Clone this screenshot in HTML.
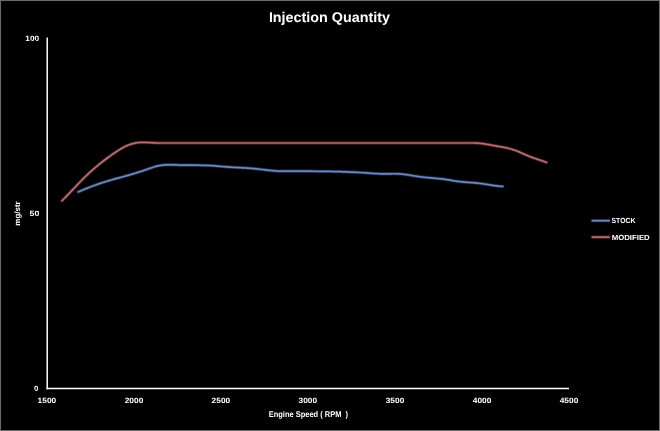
<!DOCTYPE html>
<html><head><meta charset="utf-8"><style>
html,body{margin:0;padding:0;background:#000;overflow:hidden;}
svg{display:block;will-change:transform;}
text{font-family:"Liberation Sans", Arial, sans-serif;fill:#fff;font-weight:bold;text-rendering:geometricPrecision;}
</style></head><body>
<svg width="660" height="431" viewBox="0 0 660 431">
<rect x="0" y="0" width="660" height="431" fill="#000"/>
<rect x="0.5" y="0.5" width="659" height="430" fill="none" stroke="#6b6b6b" stroke-width="1"/>
<defs><filter id="soft" x="0" y="0" width="660" height="431" filterUnits="userSpaceOnUse"><feConvolveMatrix order="3" kernelMatrix="0.01134 0.08382 0.01134 0.08382 0.61935 0.08382 0.01134 0.08382 0.01134" divisor="1" edgeMode="none"/></filter></defs>
<text x="268.9" y="21.9" font-size="14" textLength="121" lengthAdjust="spacingAndGlyphs">Injection Quantity</text>
<line x1="47.2" y1="37.6" x2="47.2" y2="389.2" stroke="#fff" stroke-width="1.5"/>
<line x1="46.45" y1="388.5" x2="569" y2="388.5" stroke="#fff" stroke-width="1.4"/>
<g font-size="7.7" text-anchor="end">
<text x="39.1" y="40.6" textLength="13.8" lengthAdjust="spacingAndGlyphs">100</text>
<text x="39.4" y="215.7" textLength="9.8" lengthAdjust="spacingAndGlyphs">50</text>
<text x="38.2" y="391.1">0</text>
</g>
<g font-size="7.6" text-anchor="middle">
<text x="46.9" y="403.2" textLength="18.6" lengthAdjust="spacingAndGlyphs">1500</text>
<text x="134" y="403.2" textLength="18.6" lengthAdjust="spacingAndGlyphs">2000</text>
<text x="220.9" y="403.2" textLength="18.6" lengthAdjust="spacingAndGlyphs">2500</text>
<text x="307.8" y="403.2" textLength="18.6" lengthAdjust="spacingAndGlyphs">3000</text>
<text x="395" y="403.2" textLength="18.6" lengthAdjust="spacingAndGlyphs">3500</text>
<text x="482.1" y="403.2" textLength="18.6" lengthAdjust="spacingAndGlyphs">4000</text>
<text x="569" y="403.2" textLength="18.6" lengthAdjust="spacingAndGlyphs">4500</text>
</g>
<text x="268.7" y="417" font-size="8.4" textLength="79.4" lengthAdjust="spacingAndGlyphs" style="white-space:pre">Engine Speed ( RPM  )</text>
<text transform="translate(19.7,225.7) rotate(-90)" font-size="7.8" textLength="24.4" lengthAdjust="spacingAndGlyphs">mg/str</text>
<g filter="url(#soft)">
<path d="M61.90,200.88 L62.00,200.78 L63.00,199.77 L64.00,198.75 L65.00,197.73 L66.00,196.70 L67.00,195.66 L68.00,194.61 L69.00,193.56 L70.00,192.51 L71.00,191.46 L72.00,190.40 L73.00,189.34 L74.00,188.28 L75.00,187.23 L76.00,186.18 L77.00,185.13 L78.00,184.08 L79.00,183.04 L80.00,182.01 L81.00,180.98 L82.00,179.97 L83.00,178.96 L84.00,177.96 L85.00,176.98 L86.00,176.01 L87.00,175.05 L88.00,174.10 L89.00,173.17 L90.00,172.24 L91.00,171.33 L92.00,170.43 L93.00,169.55 L94.00,168.67 L95.00,167.80 L96.00,166.95 L97.00,166.11 L98.00,165.28 L99.00,164.45 L100.00,163.64 L101.00,162.84 L102.00,162.05 L103.00,161.27 L104.00,160.50 L105.00,159.74 L106.00,158.99 L107.00,158.25 L108.00,157.51 L109.00,156.79 L110.00,156.07 L111.00,155.37 L112.00,154.67 L113.00,153.98 L114.00,153.30 L115.00,152.62 L116.00,151.96 L117.00,151.30 L118.00,150.65 L119.00,150.02 L120.00,149.40 L121.00,148.79 L122.00,148.20 L123.00,147.64 L124.00,147.10 L125.00,146.58 L126.00,146.09 L127.00,145.63 L128.00,145.20 L129.00,144.81 L130.00,144.44 L131.00,144.11 L132.00,143.82 L133.00,143.55 L134.00,143.31 L135.00,143.11 L136.00,142.93 L137.00,142.78 L138.00,142.65 L139.00,142.55 L140.00,142.48 L141.00,142.43 L142.00,142.40 L143.00,142.39 L144.00,142.40 L145.00,142.42 L146.00,142.45 L147.00,142.49 L148.00,142.54 L149.00,142.59 L150.00,142.65 L151.00,142.71 L152.00,142.76 L153.00,142.81 L154.00,142.86 L155.00,142.90 L156.00,142.94 L157.00,142.98 L158.00,143.01 L159.00,143.04 L160.00,143.00 L161.00,143.00 L162.00,143.00 L163.00,143.00 L164.00,143.00 L165.00,143.00 L166.00,143.00 L167.00,143.00 L168.00,143.00 L169.00,143.00 L170.00,143.00 L460.00,143.00 L461.00,143.00 L462.00,143.00 L463.00,143.00 L464.00,143.00 L465.00,143.00 L466.00,143.00 L467.00,143.00 L468.00,143.00 L469.00,143.00 L470.00,143.00 L471.00,143.00 L472.00,143.00 L473.00,143.00 L474.00,143.00 L475.00,142.92 L476.00,142.99 L477.00,143.06 L478.00,143.15 L479.00,143.24 L480.00,143.34 L481.00,143.45 L482.00,143.58 L483.00,143.71 L484.00,143.85 L485.00,144.00 L486.00,144.16 L487.00,144.32 L488.00,144.49 L489.00,144.67 L490.00,144.85 L491.00,145.03 L492.00,145.22 L493.00,145.40 L494.00,145.59 L495.00,145.77 L496.00,145.95 L497.00,146.13 L498.00,146.30 L499.00,146.47 L500.00,146.64 L501.00,146.82 L502.00,146.99 L503.00,147.17 L504.00,147.36 L505.00,147.56 L506.00,147.76 L507.00,147.98 L508.00,148.22 L509.00,148.46 L510.00,148.73 L511.00,149.01 L512.00,149.31 L513.00,149.63 L514.00,149.96 L515.00,150.32 L516.00,150.69 L517.00,151.07 L518.00,151.48 L519.00,151.89 L520.00,152.32 L521.00,152.76 L522.00,153.20 L523.00,153.64 L524.00,154.09 L525.00,154.53 L526.00,154.97 L527.00,155.39 L528.00,155.81 L529.00,156.22 L530.00,156.61 L531.00,156.99 L532.00,157.37 L533.00,157.73 L534.00,158.09 L535.00,158.44 L536.00,158.79 L537.00,159.13 L538.00,159.47 L539.00,159.80 L540.00,160.14 L541.00,160.48 L542.00,160.82 L543.00,161.16 L544.00,161.50 L545.00,161.85 L546.00,162.21 L546.70,162.46" fill="none" stroke="#3c0808" stroke-width="2.8" stroke-linecap="round" stroke-linejoin="round"/>
<path d="M61.90,200.88 L62.00,200.78 L63.00,199.77 L64.00,198.75 L65.00,197.73 L66.00,196.70 L67.00,195.66 L68.00,194.61 L69.00,193.56 L70.00,192.51 L71.00,191.46 L72.00,190.40 L73.00,189.34 L74.00,188.28 L75.00,187.23 L76.00,186.18 L77.00,185.13 L78.00,184.08 L79.00,183.04 L80.00,182.01 L81.00,180.98 L82.00,179.97 L83.00,178.96 L84.00,177.96 L85.00,176.98 L86.00,176.01 L87.00,175.05 L88.00,174.10 L89.00,173.17 L90.00,172.24 L91.00,171.33 L92.00,170.43 L93.00,169.55 L94.00,168.67 L95.00,167.80 L96.00,166.95 L97.00,166.11 L98.00,165.28 L99.00,164.45 L100.00,163.64 L101.00,162.84 L102.00,162.05 L103.00,161.27 L104.00,160.50 L105.00,159.74 L106.00,158.99 L107.00,158.25 L108.00,157.51 L109.00,156.79 L110.00,156.07 L111.00,155.37 L112.00,154.67 L113.00,153.98 L114.00,153.30 L115.00,152.62 L116.00,151.96 L117.00,151.30 L118.00,150.65 L119.00,150.02 L120.00,149.40 L121.00,148.79 L122.00,148.20 L123.00,147.64 L124.00,147.10 L125.00,146.58 L126.00,146.09 L127.00,145.63 L128.00,145.20 L129.00,144.81 L130.00,144.44 L131.00,144.11 L132.00,143.82 L133.00,143.55 L134.00,143.31 L135.00,143.11 L136.00,142.93 L137.00,142.78 L138.00,142.65 L139.00,142.55 L140.00,142.48 L141.00,142.43 L142.00,142.40 L143.00,142.39 L144.00,142.40 L145.00,142.42 L146.00,142.45 L147.00,142.49 L148.00,142.54 L149.00,142.59 L150.00,142.65 L151.00,142.71 L152.00,142.76 L153.00,142.81 L154.00,142.86 L155.00,142.90 L156.00,142.94 L157.00,142.98 L158.00,143.01 L159.00,143.04 L160.00,143.00 L161.00,143.00 L162.00,143.00 L163.00,143.00 L164.00,143.00 L165.00,143.00 L166.00,143.00 L167.00,143.00 L168.00,143.00 L169.00,143.00 L170.00,143.00 L460.00,143.00 L461.00,143.00 L462.00,143.00 L463.00,143.00 L464.00,143.00 L465.00,143.00 L466.00,143.00 L467.00,143.00 L468.00,143.00 L469.00,143.00 L470.00,143.00 L471.00,143.00 L472.00,143.00 L473.00,143.00 L474.00,143.00 L475.00,142.92 L476.00,142.99 L477.00,143.06 L478.00,143.15 L479.00,143.24 L480.00,143.34 L481.00,143.45 L482.00,143.58 L483.00,143.71 L484.00,143.85 L485.00,144.00 L486.00,144.16 L487.00,144.32 L488.00,144.49 L489.00,144.67 L490.00,144.85 L491.00,145.03 L492.00,145.22 L493.00,145.40 L494.00,145.59 L495.00,145.77 L496.00,145.95 L497.00,146.13 L498.00,146.30 L499.00,146.47 L500.00,146.64 L501.00,146.82 L502.00,146.99 L503.00,147.17 L504.00,147.36 L505.00,147.56 L506.00,147.76 L507.00,147.98 L508.00,148.22 L509.00,148.46 L510.00,148.73 L511.00,149.01 L512.00,149.31 L513.00,149.63 L514.00,149.96 L515.00,150.32 L516.00,150.69 L517.00,151.07 L518.00,151.48 L519.00,151.89 L520.00,152.32 L521.00,152.76 L522.00,153.20 L523.00,153.64 L524.00,154.09 L525.00,154.53 L526.00,154.97 L527.00,155.39 L528.00,155.81 L529.00,156.22 L530.00,156.61 L531.00,156.99 L532.00,157.37 L533.00,157.73 L534.00,158.09 L535.00,158.44 L536.00,158.79 L537.00,159.13 L538.00,159.47 L539.00,159.80 L540.00,160.14 L541.00,160.48 L542.00,160.82 L543.00,161.16 L544.00,161.50 L545.00,161.85 L546.00,162.21 L546.70,162.46" fill="none" stroke="#c87b7e" stroke-width="1.7" stroke-linecap="round" stroke-linejoin="round"/>
<path d="M78.10,191.99 L79.00,191.59 L80.00,191.16 L81.00,190.73 L82.00,190.30 L83.00,189.88 L84.00,189.46 L85.00,189.05 L86.00,188.64 L87.00,188.24 L88.00,187.84 L89.00,187.45 L90.00,187.06 L91.00,186.68 L92.00,186.30 L93.00,185.93 L94.00,185.56 L95.00,185.19 L96.00,184.84 L97.00,184.48 L98.00,184.13 L99.00,183.79 L100.00,183.45 L101.00,183.12 L102.00,182.79 L103.00,182.47 L104.00,182.15 L105.00,181.83 L106.00,181.52 L107.00,181.22 L108.00,180.91 L109.00,180.62 L110.00,180.32 L111.00,180.03 L112.00,179.75 L113.00,179.47 L114.00,179.19 L115.00,178.91 L116.00,178.64 L117.00,178.37 L118.00,178.10 L119.00,177.83 L120.00,177.56 L121.00,177.30 L122.00,177.03 L123.00,176.76 L124.00,176.48 L125.00,176.20 L126.00,175.92 L127.00,175.64 L128.00,175.35 L129.00,175.06 L130.00,174.77 L131.00,174.47 L132.00,174.17 L133.00,173.87 L134.00,173.57 L135.00,173.27 L136.00,172.96 L137.00,172.65 L138.00,172.34 L139.00,172.03 L140.00,171.71 L141.00,171.39 L142.00,171.07 L143.00,170.74 L144.00,170.40 L145.00,170.06 L146.00,169.71 L147.00,169.36 L148.00,169.01 L149.00,168.65 L150.00,168.30 L151.00,167.95 L152.00,167.61 L153.00,167.28 L154.00,166.97 L155.00,166.67 L156.00,166.39 L157.00,166.13 L158.00,165.90 L159.00,165.68 L160.00,165.50 L161.00,165.33 L162.00,165.18 L163.00,165.06 L164.00,164.97 L165.00,164.89 L166.00,164.83 L167.00,164.80 L168.00,164.78 L169.00,164.77 L170.00,164.78 L171.00,164.79 L172.00,164.82 L173.00,164.84 L174.00,164.88 L175.00,164.91 L176.00,164.94 L177.00,164.97 L178.00,165.00 L179.00,165.03 L180.00,165.05 L181.00,165.07 L182.00,165.09 L183.00,165.10 L184.00,165.12 L185.00,165.13 L186.00,165.14 L187.00,165.15 L188.00,165.16 L189.00,165.17 L190.00,165.17 L191.00,165.18 L192.00,165.18 L193.00,165.19 L194.00,165.19 L195.00,165.20 L196.00,165.20 L197.00,165.21 L198.00,165.22 L199.00,165.23 L200.00,165.24 L201.00,165.25 L202.00,165.27 L203.00,165.28 L204.00,165.31 L205.00,165.33 L206.00,165.36 L207.00,165.40 L208.00,165.44 L209.00,165.48 L210.00,165.53 L211.00,165.59 L212.00,165.65 L213.00,165.72 L214.00,165.79 L215.00,165.87 L216.00,165.96 L217.00,166.05 L218.00,166.14 L219.00,166.23 L220.00,166.32 L221.00,166.41 L222.00,166.50 L223.00,166.59 L224.00,166.67 L225.00,166.75 L226.00,166.83 L227.00,166.90 L228.00,166.97 L229.00,167.04 L230.00,167.10 L231.00,167.17 L232.00,167.23 L233.00,167.28 L234.00,167.34 L235.00,167.40 L236.00,167.45 L237.00,167.51 L238.00,167.56 L239.00,167.61 L240.00,167.67 L241.00,167.72 L242.00,167.78 L243.00,167.84 L244.00,167.89 L245.00,167.96 L246.00,168.02 L247.00,168.08 L248.00,168.15 L249.00,168.22 L250.00,168.29 L251.00,168.37 L252.00,168.45 L253.00,168.54 L254.00,168.63 L255.00,168.72 L256.00,168.82 L257.00,168.93 L258.00,169.03 L259.00,169.15 L260.00,169.26 L261.00,169.38 L262.00,169.49 L263.00,169.61 L264.00,169.73 L265.00,169.85 L266.00,169.96 L267.00,170.08 L268.00,170.19 L269.00,170.30 L270.00,170.41 L271.00,170.51 L272.00,170.61 L273.00,170.70 L274.00,170.78 L275.00,170.86 L276.00,170.93 L277.00,170.99 L278.00,171.05 L279.00,171.09 L280.00,171.13 L281.00,171.16 L282.00,171.18 L283.00,171.19 L284.00,171.20 L285.00,171.21 L286.00,171.21 L287.00,171.21 L288.00,171.21 L289.00,171.21 L290.00,171.20 L291.00,171.20 L292.00,171.20 L293.00,171.19 L294.00,171.19 L295.00,171.19 L296.00,171.19 L297.00,171.19 L298.00,171.18 L299.00,171.18 L300.00,171.18 L301.00,171.18 L302.00,171.19 L303.00,171.19 L304.00,171.19 L305.00,171.19 L306.00,171.20 L307.00,171.20 L308.00,171.20 L309.00,171.21 L310.00,171.21 L311.00,171.22 L312.00,171.23 L313.00,171.23 L314.00,171.24 L315.00,171.25 L316.00,171.26 L317.00,171.27 L318.00,171.28 L319.00,171.29 L320.00,171.30 L321.00,171.31 L322.00,171.32 L323.00,171.34 L324.00,171.35 L325.00,171.37 L326.00,171.38 L327.00,171.40 L328.00,171.42 L329.00,171.44 L330.00,171.45 L331.00,171.47 L332.00,171.49 L333.00,171.51 L334.00,171.54 L335.00,171.56 L336.00,171.58 L337.00,171.61 L338.00,171.63 L339.00,171.66 L340.00,171.69 L341.00,171.72 L342.00,171.75 L343.00,171.78 L344.00,171.81 L345.00,171.84 L346.00,171.88 L347.00,171.91 L348.00,171.95 L349.00,171.99 L350.00,172.03 L351.00,172.07 L352.00,172.11 L353.00,172.15 L354.00,172.20 L355.00,172.25 L356.00,172.29 L357.00,172.34 L358.00,172.40 L359.00,172.45 L360.00,172.50 L361.00,172.56 L362.00,172.62 L363.00,172.68 L364.00,172.74 L365.00,172.81 L366.00,172.87 L367.00,172.94 L368.00,173.01 L369.00,173.09 L370.00,173.16 L371.00,173.24 L372.00,173.31 L373.00,173.39 L374.00,173.46 L375.00,173.53 L376.00,173.60 L377.00,173.66 L378.00,173.72 L379.00,173.77 L380.00,173.82 L381.00,173.86 L382.00,173.88 L383.00,173.90 L384.00,173.91 L385.00,173.91 L386.00,173.90 L387.00,173.88 L388.00,173.86 L389.00,173.84 L390.00,173.81 L391.00,173.79 L392.00,173.77 L393.00,173.75 L394.00,173.74 L395.00,173.74 L396.00,173.75 L397.00,173.77 L398.00,173.81 L399.00,173.86 L400.00,173.93 L401.00,174.01 L402.00,174.10 L403.00,174.21 L404.00,174.32 L405.00,174.45 L406.00,174.59 L407.00,174.73 L408.00,174.88 L409.00,175.03 L410.00,175.19 L411.00,175.35 L412.00,175.52 L413.00,175.68 L414.00,175.85 L415.00,176.01 L416.00,176.17 L417.00,176.33 L418.00,176.48 L419.00,176.63 L420.00,176.77 L421.00,176.90 L422.00,177.02 L423.00,177.14 L424.00,177.25 L425.00,177.36 L426.00,177.46 L427.00,177.56 L428.00,177.65 L429.00,177.74 L430.00,177.83 L431.00,177.92 L432.00,178.00 L433.00,178.09 L434.00,178.17 L435.00,178.26 L436.00,178.35 L437.00,178.44 L438.00,178.54 L439.00,178.64 L440.00,178.74 L441.00,178.85 L442.00,178.96 L443.00,179.08 L444.00,179.21 L445.00,179.34 L446.00,179.48 L447.00,179.63 L448.00,179.79 L449.00,179.96 L450.00,180.14 L451.00,180.31 L452.00,180.49 L453.00,180.67 L454.00,180.83 L455.00,181.00 L456.00,181.15 L457.00,181.29 L458.00,181.43 L459.00,181.55 L460.00,181.67 L461.00,181.78 L462.00,181.88 L463.00,181.97 L464.00,182.05 L465.00,182.14 L466.00,182.21 L467.00,182.29 L468.00,182.36 L469.00,182.43 L470.00,182.50 L471.00,182.57 L472.00,182.64 L473.00,182.71 L474.00,182.79 L475.00,182.87 L476.00,182.96 L477.00,183.06 L478.00,183.16 L479.00,183.28 L480.00,183.40 L481.00,183.53 L482.00,183.67 L483.00,183.81 L484.00,183.97 L485.00,184.12 L486.00,184.28 L487.00,184.44 L488.00,184.61 L489.00,184.77 L490.00,184.93 L491.00,185.09 L492.00,185.25 L493.00,185.40 L494.00,185.55 L495.00,185.69 L496.00,185.83 L497.00,185.95 L498.00,186.07 L499.00,186.17 L500.00,186.27 L501.00,186.35 L502.00,186.41 L503.00,186.46" fill="none" stroke="#0a1e40" stroke-width="2.8" stroke-linecap="round" stroke-linejoin="round"/>
<path d="M78.10,191.99 L79.00,191.59 L80.00,191.16 L81.00,190.73 L82.00,190.30 L83.00,189.88 L84.00,189.46 L85.00,189.05 L86.00,188.64 L87.00,188.24 L88.00,187.84 L89.00,187.45 L90.00,187.06 L91.00,186.68 L92.00,186.30 L93.00,185.93 L94.00,185.56 L95.00,185.19 L96.00,184.84 L97.00,184.48 L98.00,184.13 L99.00,183.79 L100.00,183.45 L101.00,183.12 L102.00,182.79 L103.00,182.47 L104.00,182.15 L105.00,181.83 L106.00,181.52 L107.00,181.22 L108.00,180.91 L109.00,180.62 L110.00,180.32 L111.00,180.03 L112.00,179.75 L113.00,179.47 L114.00,179.19 L115.00,178.91 L116.00,178.64 L117.00,178.37 L118.00,178.10 L119.00,177.83 L120.00,177.56 L121.00,177.30 L122.00,177.03 L123.00,176.76 L124.00,176.48 L125.00,176.20 L126.00,175.92 L127.00,175.64 L128.00,175.35 L129.00,175.06 L130.00,174.77 L131.00,174.47 L132.00,174.17 L133.00,173.87 L134.00,173.57 L135.00,173.27 L136.00,172.96 L137.00,172.65 L138.00,172.34 L139.00,172.03 L140.00,171.71 L141.00,171.39 L142.00,171.07 L143.00,170.74 L144.00,170.40 L145.00,170.06 L146.00,169.71 L147.00,169.36 L148.00,169.01 L149.00,168.65 L150.00,168.30 L151.00,167.95 L152.00,167.61 L153.00,167.28 L154.00,166.97 L155.00,166.67 L156.00,166.39 L157.00,166.13 L158.00,165.90 L159.00,165.68 L160.00,165.50 L161.00,165.33 L162.00,165.18 L163.00,165.06 L164.00,164.97 L165.00,164.89 L166.00,164.83 L167.00,164.80 L168.00,164.78 L169.00,164.77 L170.00,164.78 L171.00,164.79 L172.00,164.82 L173.00,164.84 L174.00,164.88 L175.00,164.91 L176.00,164.94 L177.00,164.97 L178.00,165.00 L179.00,165.03 L180.00,165.05 L181.00,165.07 L182.00,165.09 L183.00,165.10 L184.00,165.12 L185.00,165.13 L186.00,165.14 L187.00,165.15 L188.00,165.16 L189.00,165.17 L190.00,165.17 L191.00,165.18 L192.00,165.18 L193.00,165.19 L194.00,165.19 L195.00,165.20 L196.00,165.20 L197.00,165.21 L198.00,165.22 L199.00,165.23 L200.00,165.24 L201.00,165.25 L202.00,165.27 L203.00,165.28 L204.00,165.31 L205.00,165.33 L206.00,165.36 L207.00,165.40 L208.00,165.44 L209.00,165.48 L210.00,165.53 L211.00,165.59 L212.00,165.65 L213.00,165.72 L214.00,165.79 L215.00,165.87 L216.00,165.96 L217.00,166.05 L218.00,166.14 L219.00,166.23 L220.00,166.32 L221.00,166.41 L222.00,166.50 L223.00,166.59 L224.00,166.67 L225.00,166.75 L226.00,166.83 L227.00,166.90 L228.00,166.97 L229.00,167.04 L230.00,167.10 L231.00,167.17 L232.00,167.23 L233.00,167.28 L234.00,167.34 L235.00,167.40 L236.00,167.45 L237.00,167.51 L238.00,167.56 L239.00,167.61 L240.00,167.67 L241.00,167.72 L242.00,167.78 L243.00,167.84 L244.00,167.89 L245.00,167.96 L246.00,168.02 L247.00,168.08 L248.00,168.15 L249.00,168.22 L250.00,168.29 L251.00,168.37 L252.00,168.45 L253.00,168.54 L254.00,168.63 L255.00,168.72 L256.00,168.82 L257.00,168.93 L258.00,169.03 L259.00,169.15 L260.00,169.26 L261.00,169.38 L262.00,169.49 L263.00,169.61 L264.00,169.73 L265.00,169.85 L266.00,169.96 L267.00,170.08 L268.00,170.19 L269.00,170.30 L270.00,170.41 L271.00,170.51 L272.00,170.61 L273.00,170.70 L274.00,170.78 L275.00,170.86 L276.00,170.93 L277.00,170.99 L278.00,171.05 L279.00,171.09 L280.00,171.13 L281.00,171.16 L282.00,171.18 L283.00,171.19 L284.00,171.20 L285.00,171.21 L286.00,171.21 L287.00,171.21 L288.00,171.21 L289.00,171.21 L290.00,171.20 L291.00,171.20 L292.00,171.20 L293.00,171.19 L294.00,171.19 L295.00,171.19 L296.00,171.19 L297.00,171.19 L298.00,171.18 L299.00,171.18 L300.00,171.18 L301.00,171.18 L302.00,171.19 L303.00,171.19 L304.00,171.19 L305.00,171.19 L306.00,171.20 L307.00,171.20 L308.00,171.20 L309.00,171.21 L310.00,171.21 L311.00,171.22 L312.00,171.23 L313.00,171.23 L314.00,171.24 L315.00,171.25 L316.00,171.26 L317.00,171.27 L318.00,171.28 L319.00,171.29 L320.00,171.30 L321.00,171.31 L322.00,171.32 L323.00,171.34 L324.00,171.35 L325.00,171.37 L326.00,171.38 L327.00,171.40 L328.00,171.42 L329.00,171.44 L330.00,171.45 L331.00,171.47 L332.00,171.49 L333.00,171.51 L334.00,171.54 L335.00,171.56 L336.00,171.58 L337.00,171.61 L338.00,171.63 L339.00,171.66 L340.00,171.69 L341.00,171.72 L342.00,171.75 L343.00,171.78 L344.00,171.81 L345.00,171.84 L346.00,171.88 L347.00,171.91 L348.00,171.95 L349.00,171.99 L350.00,172.03 L351.00,172.07 L352.00,172.11 L353.00,172.15 L354.00,172.20 L355.00,172.25 L356.00,172.29 L357.00,172.34 L358.00,172.40 L359.00,172.45 L360.00,172.50 L361.00,172.56 L362.00,172.62 L363.00,172.68 L364.00,172.74 L365.00,172.81 L366.00,172.87 L367.00,172.94 L368.00,173.01 L369.00,173.09 L370.00,173.16 L371.00,173.24 L372.00,173.31 L373.00,173.39 L374.00,173.46 L375.00,173.53 L376.00,173.60 L377.00,173.66 L378.00,173.72 L379.00,173.77 L380.00,173.82 L381.00,173.86 L382.00,173.88 L383.00,173.90 L384.00,173.91 L385.00,173.91 L386.00,173.90 L387.00,173.88 L388.00,173.86 L389.00,173.84 L390.00,173.81 L391.00,173.79 L392.00,173.77 L393.00,173.75 L394.00,173.74 L395.00,173.74 L396.00,173.75 L397.00,173.77 L398.00,173.81 L399.00,173.86 L400.00,173.93 L401.00,174.01 L402.00,174.10 L403.00,174.21 L404.00,174.32 L405.00,174.45 L406.00,174.59 L407.00,174.73 L408.00,174.88 L409.00,175.03 L410.00,175.19 L411.00,175.35 L412.00,175.52 L413.00,175.68 L414.00,175.85 L415.00,176.01 L416.00,176.17 L417.00,176.33 L418.00,176.48 L419.00,176.63 L420.00,176.77 L421.00,176.90 L422.00,177.02 L423.00,177.14 L424.00,177.25 L425.00,177.36 L426.00,177.46 L427.00,177.56 L428.00,177.65 L429.00,177.74 L430.00,177.83 L431.00,177.92 L432.00,178.00 L433.00,178.09 L434.00,178.17 L435.00,178.26 L436.00,178.35 L437.00,178.44 L438.00,178.54 L439.00,178.64 L440.00,178.74 L441.00,178.85 L442.00,178.96 L443.00,179.08 L444.00,179.21 L445.00,179.34 L446.00,179.48 L447.00,179.63 L448.00,179.79 L449.00,179.96 L450.00,180.14 L451.00,180.31 L452.00,180.49 L453.00,180.67 L454.00,180.83 L455.00,181.00 L456.00,181.15 L457.00,181.29 L458.00,181.43 L459.00,181.55 L460.00,181.67 L461.00,181.78 L462.00,181.88 L463.00,181.97 L464.00,182.05 L465.00,182.14 L466.00,182.21 L467.00,182.29 L468.00,182.36 L469.00,182.43 L470.00,182.50 L471.00,182.57 L472.00,182.64 L473.00,182.71 L474.00,182.79 L475.00,182.87 L476.00,182.96 L477.00,183.06 L478.00,183.16 L479.00,183.28 L480.00,183.40 L481.00,183.53 L482.00,183.67 L483.00,183.81 L484.00,183.97 L485.00,184.12 L486.00,184.28 L487.00,184.44 L488.00,184.61 L489.00,184.77 L490.00,184.93 L491.00,185.09 L492.00,185.25 L493.00,185.40 L494.00,185.55 L495.00,185.69 L496.00,185.83 L497.00,185.95 L498.00,186.07 L499.00,186.17 L500.00,186.27 L501.00,186.35 L502.00,186.41 L503.00,186.46" fill="none" stroke="#7896cd" stroke-width="1.7" stroke-linecap="round" stroke-linejoin="round"/>
<line x1="591.5" y1="220.7" x2="610" y2="220.7" stroke="#0a1e40" stroke-width="2.8"/>
<line x1="591.5" y1="220.7" x2="610" y2="220.7" stroke="#7896cd" stroke-width="1.7"/>
<line x1="591.5" y1="237.1" x2="610" y2="237.1" stroke="#3c0808" stroke-width="2.8"/>
<line x1="591.5" y1="237.1" x2="610" y2="237.1" stroke="#c87b7e" stroke-width="1.7"/>
</g>
<g font-size="7.4">
<text x="611.5" y="223.4" textLength="23.9" lengthAdjust="spacingAndGlyphs">STOCK</text>
<text x="611.7" y="239.7" textLength="38" lengthAdjust="spacingAndGlyphs">MODIFIED</text>
</g>
</svg>
</body></html>
